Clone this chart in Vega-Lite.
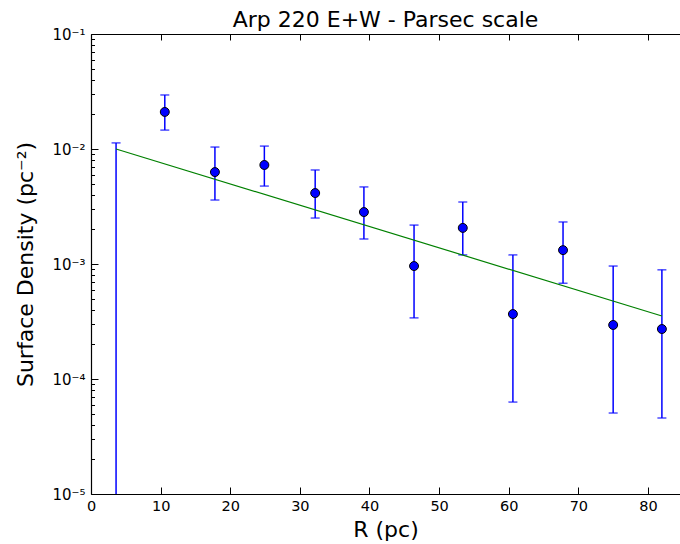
{
  "$schema": "https://vega.github.io/schema/vega-lite/v6.json",
  "width": 589,
  "height": 460,
  "autosize": "none",
  "padding": {"left": 91, "top": 34, "right": 0, "bottom": 50},
  "background": "white",
  "title": {"text": "Arp 220 E+W - Parsec scale", "fontSize": 22, "font": "DejaVu Sans", "fontWeight": "normal", "anchor": "middle", "offset": -5, "color": "black"},
  "config": {
    "view": {"stroke": null},
    "axis": {
      "domainColor": "black", "domainWidth": 1.2, "tickColor": "black", "tickWidth": 1,
      "labelColor": "black", "labelFont": "DejaVu Sans", "labelFontSize": 14.5,
      "titleFont": "DejaVu Sans", "titleFontSize": 22, "titleFontWeight": "normal", "titleColor": "black",
      "grid": false
    }
  },
  "datasets": {
    "pts": [
      {"R": 3.6, "S": null, "hi": 0.0113, "lo": 1e-7},
      {"R": 10.6, "S": 0.021, "hi": 0.0295, "lo": 0.0146},
      {"R": 17.8, "S": 0.0063, "hi": 0.0104, "lo": 0.0036},
      {"R": 24.9, "S": 0.00726, "hi": 0.0106, "lo": 0.00476},
      {"R": 32.2, "S": 0.00414, "hi": 0.00657, "lo": 0.00251},
      {"R": 39.2, "S": 0.00283, "hi": 0.00468, "lo": 0.00165},
      {"R": 46.4, "S": 0.00096, "hi": 0.00218, "lo": 0.00034},
      {"R": 53.4, "S": 0.00206, "hi": 0.00346, "lo": 0.0012},
      {"R": 60.6, "S": 0.000367, "hi": 0.0012, "lo": 0.000063},
      {"R": 67.8, "S": 0.00132, "hi": 0.00232, "lo": 0.00068},
      {"R": 75.0, "S": 0.000295, "hi": 0.00096, "lo": 0.0000506},
      {"R": 82.0, "S": 0.000272, "hi": 0.00089, "lo": 0.0000458}
    ],
    "fit": [
      {"R": 3.6, "S": 0.0100},
      {"R": 82.0, "S": 0.000353}
    ]
  },
  "resolve": {"axis": {"x": "independent"}},
  "layer": [
    {
      "data": {"name": "pts"},
      "mark": {"type": "rule", "color": "#0000ff", "strokeWidth": 1.5, "clip": true},
      "encoding": {
        "x": {"field": "R", "type": "quantitative", "scale": {"domain": [0, 84.6], "nice": false, "zero": false},
          "axis": {"orient": "bottom", "values": [0,10,20,30,40,50,60,70,80], "tickSize": -7, "labelPadding": 12, "title": "R (pc)", "titlePadding": 7, "labelFlush": false}},
        "y": {"field": "hi", "type": "quantitative", "scale": {"type": "log", "domain": [0.00001, 0.1], "nice": false},
          "axis": {
            "orient": "left",
            "values": [0.00001,0.00002,0.00003,0.00004,0.00005,0.00006,0.00007,0.00008,0.00009,
                       0.0001,0.0002,0.0003,0.0004,0.0005,0.0006,0.0007,0.0008,0.0009,
                       0.001,0.002,0.003,0.004,0.005,0.006,0.007,0.008,0.009,
                       0.01,0.02,0.03,0.04,0.05,0.06,0.07,0.08,0.09,0.1],
            "labelExpr": "datum.value == 0.1 ? '10⁻¹' : datum.value == 0.01 ? '10⁻²' : datum.value == 0.001 ? '10⁻³' : datum.value == 0.0001 ? '10⁻⁴' : datum.value == 0.00001 ? '10⁻⁵' : ''",
            "tickSize": {"condition": {"test": "indexof([0.1,0.01,0.001,0.0001,0.00001], datum.value) >= 0", "value": -7}, "value": -3.5},
            "labelPadding": 13,
            "labelFontSize": 15,
            "labelFlush": false,
            "title": "Surface Density (pc⁻²)",
            "titlePadding": 14
          }},
        "y2": {"field": "lo"}
      }
    },
    {
      "data": {"name": "pts"},
      "mark": {"type": "tick", "orient": "horizontal", "color": "#0000ff", "size": 9, "thickness": 1.5, "clip": true},
      "encoding": {
        "x": {"field": "R", "type": "quantitative", "axis": null},
        "y": {"field": "hi", "type": "quantitative"}
      }
    },
    {
      "data": {"name": "pts"},
      "mark": {"type": "tick", "orient": "horizontal", "color": "#0000ff", "size": 9, "thickness": 1.5, "clip": true},
      "encoding": {
        "x": {"field": "R", "type": "quantitative", "axis": null},
        "y": {"field": "lo", "type": "quantitative"}
      }
    },
    {
      "data": {"name": "fit"},
      "mark": {"type": "line", "color": "#008000", "strokeWidth": 1.2, "clip": true},
      "encoding": {
        "x": {"field": "R", "type": "quantitative",
          "axis": {"orient": "top", "values": [0,10,20,30,40,50,60,70,80], "tickSize": -6, "labels": false, "title": null}},
        "y": {"field": "S", "type": "quantitative"}
      }
    },
    {
      "data": {"name": "pts"},
      "mark": {"type": "point", "shape": "circle", "filled": true, "fill": "#0000ff", "stroke": "black", "strokeWidth": 1, "opacity": 1, "size": 80, "clip": true},
      "encoding": {
        "x": {"field": "R", "type": "quantitative", "axis": null},
        "y": {"field": "S", "type": "quantitative"}
      }
    }
  ]
}
